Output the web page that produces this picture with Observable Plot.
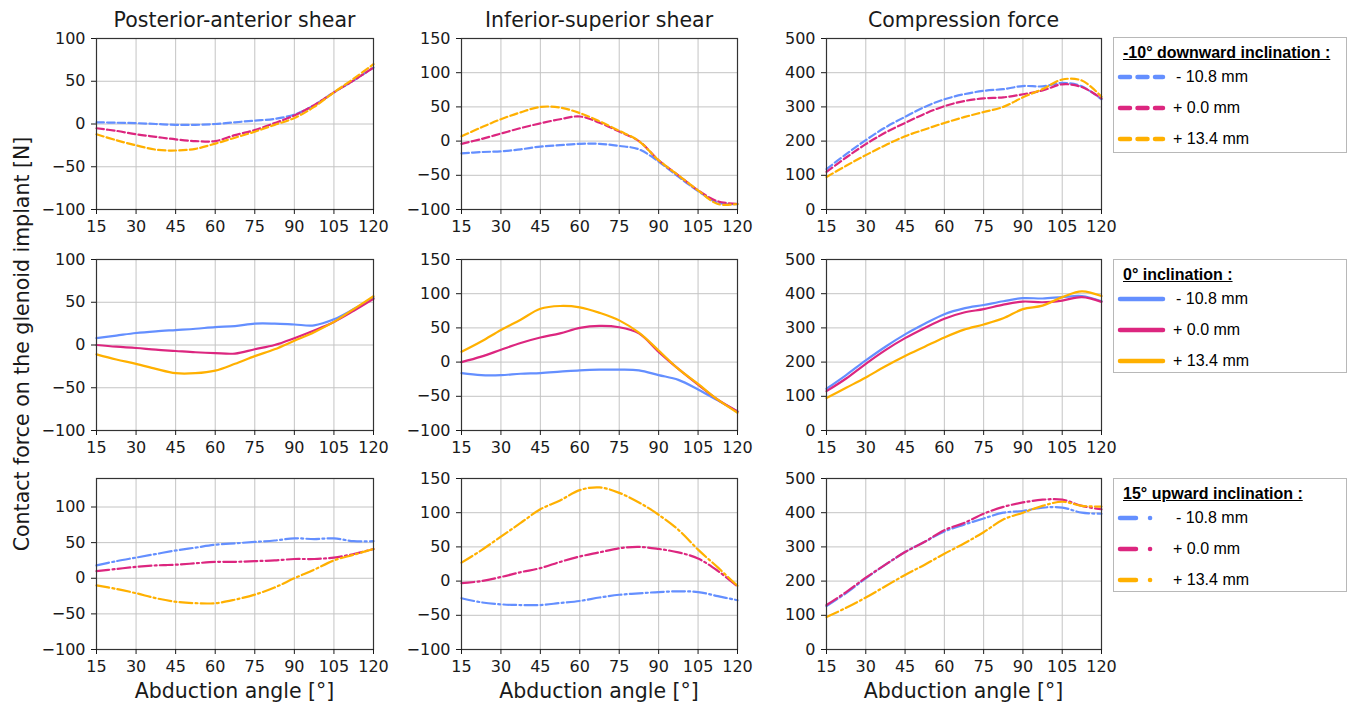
<!DOCTYPE html>
<html>
<head>
<meta charset="utf-8">
<script src="https://cdn.jsdelivr.net/npm/d3@7"></script>
<script src="https://cdn.jsdelivr.net/npm/@observablehq/plot@0.6"></script>
<style>
  html, body { margin: 0; padding: 0; background: #fff; }
  #root { position: relative; width: 1349px; height: 703px; overflow: hidden; background: #fff; }
  .panel { position: absolute; }
  .legend { position: absolute; border: 1px solid #b8b8b8; background: #fff; box-sizing: border-box;
            font-family: "Liberation Sans", Arial, sans-serif; }
  .legend .ttl { position: absolute; left: 9px; font-weight: bold; font-size: 16px; text-decoration: underline; white-space: nowrap; }
  .legend .ent { position: absolute; left: 3px; height: 20px; white-space: nowrap; font-size: 16px; }
  .legend .ent svg { position: absolute; left: 0; top: 0; }
  .legend .ent span { position: absolute; top: 1px; }
</style>
</head>
<body>
<div id="root"></div>
<script>
// ---------------- data ----------------
const angles = [15, 22.5, 30, 37.5, 45, 52.5, 60, 67.5, 75, 82.5, 90, 97.5, 105, 112.5, 120];
const xTicks = [15, 30, 45, 60, 75, 90, 105, 120];
const columnTitles = ["Posterior-anterior shear", "Inferior-superior shear", "Compression force"];
const seriesLabels = ["- 10.8 mm", "+ 0.0 mm", "+ 13.4 mm"];
const seriesColors = ["#648FFF", "#DC267F", "#FFB000"];
const rowTitles = ["-10° downward inclination :", "0° inclination :", "15° upward inclination :"];
const xLabel = "Abduction angle [°]";
const yLabel = "Contact force on the glenoid implant [N]";

// y axis settings per column / row
const yTicksShear = [-100, -50, 0, 50, 100];
const yTicksIS = [-100, -50, 0, 50, 100, 150];
const yTicksComp = [0, 100, 200, 300, 400, 500];

// Row 1: -10° downward inclination (dashed)
const paDown_m108 = [2, 1.5, 1, 0, -1, -1, 0, 2, 4, 6, 11, 22, 37, 51, 66];
const paDown_p00  = [-5, -8, -12, -15, -18, -20, -20, -13, -7, 1, 10, 22, 37, 51, 66];
const paDown_p134 = [-12, -19, -25, -30, -31, -29, -23, -16, -9, -1, 7, 20, 37, 53, 70];
const isDown_m108 = [-18, -16, -15, -12, -8, -6, -4, -4, -7, -12, -30, -52, -73, -90, -92];
const isDown_p00  = [-4, 3, 11, 19, 26, 32, 36, 27, 14, 0, -28, -50, -72, -88, -92];
const isDown_p134 = [7, 20, 32, 42, 50, 49, 41, 29, 15, 0, -28, -50, -72, -92, -92];
const cpDown_m108 = [118, 162, 203, 240, 271, 300, 322, 337, 347, 352, 361, 360, 370, 360, 322];
const cpDown_p00  = [110, 152, 191, 225, 253, 280, 302, 317, 325, 328, 337, 348, 366, 358, 325];
const cpDown_p134 = [95, 128, 159, 188, 214, 234, 253, 270, 285, 300, 328, 352, 380, 377, 330];

// Row 2: 0° inclination (solid)
const paZero_m108 = [8, 11, 14, 16, 17.5, 19, 21, 22, 25, 25, 24, 23, 30, 42, 55];
const paZero_p00  = [0, -2, -3.5, -5.5, -7, -8.5, -9.5, -10, -5, 0, 8, 17, 27, 40, 54];
const paZero_p134 = [-11, -17, -22, -28, -33, -33, -30, -22, -13, -5, 5, 15, 27, 42, 57];
const isZero_m108 = [-16, -19, -19, -17, -16, -14, -12, -11, -11, -12, -19, -26, -40, -56, -72];
const isZero_p00  = [0, 8, 18, 28, 36, 42, 50, 53, 51, 42, 15, -10, -33, -55, -72];
const isZero_p134 = [15, 30, 47, 62, 78, 82, 80, 72, 61, 43, 17, -10, -32, -55, -74];
const cpZero_m108 = [122, 162, 205, 245, 281, 312, 340, 357, 367, 378, 387, 386, 390, 393, 378];
const cpZero_p00  = [115, 152, 195, 235, 270, 300, 327, 345, 355, 368, 377, 375, 380, 390, 376];
const cpZero_p134 = [95, 125, 155, 188, 218, 245, 272, 295, 310, 328, 355, 365, 390, 407, 393];

// Row 3: 15° upward inclination (dash-dot)
const paUp_m108 = [18, 24, 29, 34, 39, 43, 47, 49, 51, 53, 56, 55, 56, 52, 52];
const paUp_p00  = [10, 13, 16, 18, 19, 21, 23, 23, 24, 25, 27, 27, 29, 34, 41];
const paUp_p134 = [-10, -15, -21, -28, -33, -35, -35, -30, -23, -13, 0, 12, 25, 33, 41];
const isUp_m108 = [-25, -31, -34, -35, -35, -32, -29, -24, -20, -18, -16, -15, -16, -22, -28];
const isUp_p00  = [-3, 0, 6, 13, 19, 28, 36, 42, 48, 50, 47, 42, 33, 15, -8];
const isUp_p134 = [27, 45, 65, 85, 105, 118, 133, 137, 129, 115, 97, 75, 46, 20, -7];
const cpUp_m108 = [127, 165, 208, 248, 285, 315, 345, 365, 383, 400, 405, 415, 415, 400, 397];
const cpUp_p00  = [130, 168, 210, 248, 285, 315, 349, 370, 397, 417, 430, 438, 438, 420, 410];
const cpUp_p134 = [95, 122, 152, 185, 218, 248, 280, 310, 343, 380, 400, 420, 432, 420, 418];

const grid = [
  [[paDown_m108, paDown_p00, paDown_p134], [isDown_m108, isDown_p00, isDown_p134], [cpDown_m108, cpDown_p00, cpDown_p134]],
  [[paZero_m108, paZero_p00, paZero_p134], [isZero_m108, isZero_p00, isZero_p134], [cpZero_m108, cpZero_p00, cpZero_p134]],
  [[paUp_m108, paUp_p00, paUp_p134], [isUp_m108, isUp_p00, isUp_p134], [cpUp_m108, cpUp_p00, cpUp_p134]]
];

// ---------------- layout ----------------
const colLeft = [96, 461, 826];
const colWidth = [277, 276, 275];
const rowTop = [38, 259, 478];
const rowHeight = [171, 171, 171];
const ML = 66, MT = 10, MR = 8, MB = 34;
const dashes = ["7.4,3.2", null, "12.8,3.2,2,3.2"];

function yConfig(r, c) {
  if (c === 0) return r === 2 ? {domain: [-100, 140], ticks: yTicksShear} : {domain: [-100, 100], ticks: yTicksShear};
  if (c === 1) return {domain: [-100, 150], ticks: yTicksIS};
  return {domain: [0, 500], ticks: yTicksComp};
}
const fmt = d => d < 0 ? "\u2212" + Math.abs(d) : String(d);

const root = document.getElementById("root");

for (let r = 0; r < 3; r++) {
  for (let c = 0; c < 3; c++) {
    const yc = yConfig(r, c);
    const rows = [];
    grid[r][c].forEach((vals, s) => vals.forEach((v, i) => rows.push({angle: angles[i], value: v, series: seriesLabels[s]})));
    const W = colWidth[c] + ML + MR, H = rowHeight[r] + MT + MB;
    const lineMarks = seriesLabels.map((lab, s) => Plot.line(rows.filter(d => d.series === lab), {
      x: "angle", y: "value", stroke: seriesColors[s], strokeWidth: 2.2,
      strokeDasharray: dashes[r] || undefined, curve: "catmull-rom"
    }));
    const chart = Plot.plot({
      width: W, height: H,
      marginLeft: ML, marginTop: MT, marginRight: MR, marginBottom: MB,
      style: {fontFamily: "DejaVu Sans", fontSize: "16px", color: "#1a1a1a", background: "transparent", overflow: "visible"},
      x: {domain: [15, 120], ticks: xTicks, tickSize: 5, label: null, tickFormat: fmt},
      y: {domain: yc.domain, ticks: yc.ticks, tickSize: 5, label: null, tickFormat: fmt},
      marks: [
        Plot.gridX(xTicks, {stroke: "#c4c4c4", strokeOpacity: 1, strokeWidth: 1}),
        Plot.gridY(yc.ticks, {stroke: "#c4c4c4", strokeOpacity: 1, strokeWidth: 1}),
        ...lineMarks,
        Plot.frame({stroke: "#333", strokeWidth: 1.2}),
        Plot.axisX({ticks: xTicks, tickSize: 5, tickPadding: 6, tickFormat: fmt, label: null, fontSize: 16}),
        Plot.axisY({ticks: yc.ticks, tickSize: 5, tickPadding: 6, tickFormat: fmt, label: null, fontSize: 16})
      ]
    });
    const div = document.createElement("div");
    div.className = "panel";
    div.style.left = (colLeft[c] - ML) + "px";
    div.style.top = (rowTop[r] - MT) + "px";
    div.style.width = W + "px";
    div.style.height = H + "px";
    div.appendChild(chart);
    root.appendChild(div);
  }
}

// ---------------- text overlay ----------------
const ns = "http://www.w3.org/2000/svg";
const over = document.createElementNS(ns, "svg");
over.setAttribute("width", 1349); over.setAttribute("height", 703);
over.style.position = "absolute"; over.style.left = "0"; over.style.top = "0"; over.style.pointerEvents = "none";
over.style.fontFamily = "DejaVu Sans";
function addText(str, x, y, size, rot) {
  const t = document.createElementNS(ns, "text");
  t.textContent = str;
  t.setAttribute("x", x); t.setAttribute("y", y);
  t.setAttribute("text-anchor", "middle");
  t.setAttribute("font-size", size);
  t.setAttribute("fill", "#1a1a1a");
  if (rot) t.setAttribute("transform", `rotate(${rot},${x},${y})`);
  over.appendChild(t);
}
columnTitles.forEach((t, c) => addText(t, colLeft[c] + colWidth[c] / 2, 27, 20.5));
for (let c = 0; c < 3; c++) addText(xLabel, colLeft[c] + colWidth[c] / 2, 698, 20.5);
addText(yLabel, 29, 344, 20.5, -90);
root.appendChild(over);

// ---------------- legends ----------------
const legendTop = [37, 259, 478];
const legendH = [116, 114, 114];
for (let r = 0; r < 3; r++) {
  const lg = document.createElement("div");
  lg.className = "legend";
  lg.style.left = "1113px"; lg.style.top = legendTop[r] + "px";
  lg.style.width = "234px"; lg.style.height = legendH[r] + "px";
  const ttl = document.createElement("div");
  ttl.className = "ttl"; ttl.textContent = rowTitles[r]; ttl.style.top = "6px";
  lg.appendChild(ttl);
  seriesLabels.forEach((lab, s) => {
    const e = document.createElement("div");
    e.className = "ent"; e.style.top = (29 + s * 31) + "px";
    let dash = "";
    if (r === 0) dash = 'stroke-dasharray="10,7.5"';
    if (r === 2) dash = 'stroke-dasharray="16,14,0.1,100"';
    e.innerHTML = `<svg width="60" height="20"><line x1="3" x2="46" y1="10" y2="10" stroke="${seriesColors[s]}" stroke-width="4.5" stroke-linecap="round" ${dash}/></svg><span style="left:${s === 0 ? 59 : 56}px">${lab}</span>`;
    lg.appendChild(e);
  });
  root.appendChild(lg);
}
</script>
</body>
</html>
